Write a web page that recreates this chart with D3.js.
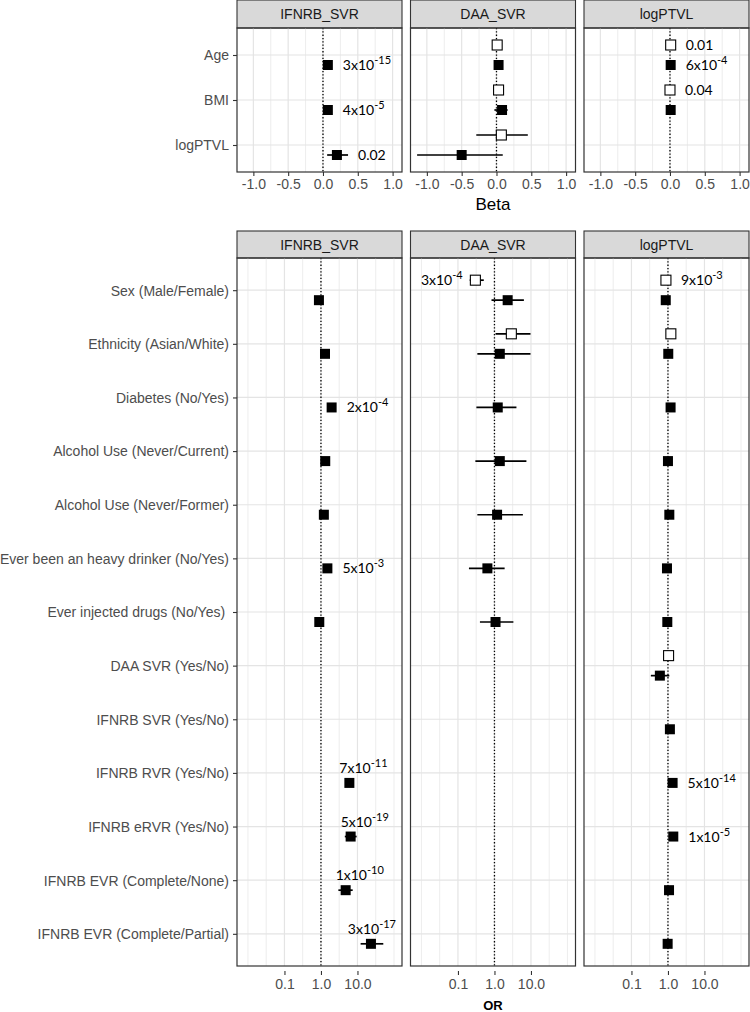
<!DOCTYPE html>
<html>
<head>
<meta charset="utf-8">
<script src="https://cdn.jsdelivr.net/npm/d3@7"></script>
<style>
  body { margin: 0; background: #fff; }
  svg { display: block; }
</style>
</head>
<body>
<svg id="chart" width="750" height="1012"></svg>
<script>
// Facets and rows
const outcomes = ['IFNRB_SVR', 'DAA_SVR', 'logPTVL'];
const betaVars = ['Age', 'BMI', 'logPTVL'];
const orVars = [
  'Sex (Male/Female)', 'Ethnicity (Asian/White)', 'Diabetes (No/Yes)',
  'Alcohol Use (Never/Current)', 'Alcohol Use (Never/Former)',
  'Ever been an heavy drinker (No/Yes)', 'Ever injected drugs (No/Yes) ',
  'DAA SVR (Yes/No)', 'IFNRB SVR (Yes/No)', 'IFNRB RVR (Yes/No)',
  'IFNRB eRVR (Yes/No)', 'IFNRB EVR (Complete/None)', 'IFNRB EVR (Complete/Partial)'
];

// Tick labels
const betaTicks = [-1, -0.5, 0, 0.5, 1];
const betaMinor = [-0.75, -0.25, 0.25, 0.75];
const orTicks = [0.1, 1, 10];
const orMinor = [0.01, 0.0316, 0.316, 3.16, 31.6, 100];

// [outcome, variable, estimate, lower, upper, p label]
const betaFilled = [
  ['IFNRB_SVR', 'Age', 0.07, 0.05, 0.09, '3x10^-15'],
  ['IFNRB_SVR', 'BMI', 0.07, 0.05, 0.09, '4x10^-5'],
  ['IFNRB_SVR', 'logPTVL', 0.20, 0.06, 0.36, '0.02'],
  ['DAA_SVR', 'Age', 0.03, 0.01, 0.05, ''],
  ['DAA_SVR', 'BMI', 0.08, -0.03, 0.16, ''],
  ['DAA_SVR', 'logPTVL', -0.50, -1.14, 0.09, ''],
  ['logPTVL', 'Age', 0.01, 0.00, 0.02, '6x10^-4'],
  ['logPTVL', 'BMI', 0.01, -0.01, 0.03, '']
];
const betaOpen = [
  ['DAA_SVR', 'Age', 0.01, -0.01, 0.03, ''],
  ['DAA_SVR', 'BMI', 0.03, 0.00, 0.06, ''],
  ['DAA_SVR', 'logPTVL', 0.07, -0.29, 0.45, ''],
  ['logPTVL', 'Age', 0.01, 0.00, 0.02, '0.01'],
  ['logPTVL', 'BMI', 0.00, -0.01, 0.01, '0.04']
];

const orFilled = [
  ['IFNRB_SVR', 'Sex (Male/Female)', 0.88, 0.80, 0.97, ''],
  ['IFNRB_SVR', 'Ethnicity (Asian/White)', 1.29, 1.15, 1.45, ''],
  ['IFNRB_SVR', 'Diabetes (No/Yes)', 1.96, 1.75, 2.20, '2x10^-4'],
  ['IFNRB_SVR', 'Alcohol Use (Never/Current)', 1.31, 1.18, 1.45, ''],
  ['IFNRB_SVR', 'Alcohol Use (Never/Former)', 1.20, 1.08, 1.33, ''],
  ['IFNRB_SVR', 'Ever been an heavy drinker (No/Yes)', 1.50, 1.35, 1.67, '5x10^-3'],
  ['IFNRB_SVR', 'Ever injected drugs (No/Yes) ', 0.90, 0.80, 1.00, ''],
  ['IFNRB_SVR', 'IFNRB RVR (Yes/No)', 6.0, 5.2, 6.9, '7x10^-11'],
  ['IFNRB_SVR', 'IFNRB eRVR (Yes/No)', 6.5, 4.5, 9.5, '5x10^-19'],
  ['IFNRB_SVR', 'IFNRB EVR (Complete/None)', 4.75, 3.0, 7.4, '1x10^-10'],
  ['IFNRB_SVR', 'IFNRB EVR (Complete/Partial)', 23.4, 12.2, 51, '3x10^-17'],
  ['DAA_SVR', 'Sex (Male/Female)', 2.3, 0.83, 6.4, ''],
  ['DAA_SVR', 'Ethnicity (Asian/White)', 1.4, 0.34, 9.7, ''],
  ['DAA_SVR', 'Diabetes (No/Yes)', 1.23, 0.32, 4.0, ''],
  ['DAA_SVR', 'Alcohol Use (Never/Current)', 1.4, 0.30, 7.5, ''],
  ['DAA_SVR', 'Alcohol Use (Never/Former)', 1.18, 0.34, 6.0, ''],
  ['DAA_SVR', 'Ever been an heavy drinker (No/Yes)', 0.64, 0.20, 1.9, ''],
  ['DAA_SVR', 'Ever injected drugs (No/Yes) ', 1.07, 0.40, 3.3, ''],
  ['logPTVL', 'Sex (Male/Female)', 0.87, 0.80, 0.95, ''],
  ['logPTVL', 'Ethnicity (Asian/White)', 1.02, 0.93, 1.12, ''],
  ['logPTVL', 'Diabetes (No/Yes)', 1.18, 1.07, 1.30, ''],
  ['logPTVL', 'Alcohol Use (Never/Current)', 1.00, 0.92, 1.09, ''],
  ['logPTVL', 'Alcohol Use (Never/Former)', 1.09, 1.00, 1.19, ''],
  ['logPTVL', 'Ever been an heavy drinker (No/Yes)', 0.94, 0.86, 1.03, ''],
  ['logPTVL', 'Ever injected drugs (No/Yes) ', 0.96, 0.88, 1.05, ''],
  ['logPTVL', 'DAA SVR (Yes/No)', 0.60, 0.34, 1.09, ''],
  ['logPTVL', 'IFNRB SVR (Yes/No)', 1.13, 1.03, 1.24, ''],
  ['logPTVL', 'IFNRB RVR (Yes/No)', 1.34, 1.22, 1.47, '5x10^-14'],
  ['logPTVL', 'IFNRB eRVR (Yes/No)', 1.40, 1.05, 1.55, '1x10^-5'],
  ['logPTVL', 'IFNRB EVR (Complete/None)', 1.07, 0.98, 1.17, ''],
  ['logPTVL', 'IFNRB EVR (Complete/Partial)', 0.98, 0.90, 1.07, '']
];
const orOpen = [
  ['DAA_SVR', 'Sex (Male/Female)', 0.30, 0.21, 0.51, '3x10^-4'],
  ['DAA_SVR', 'Ethnicity (Asian/White)', 2.9, 1.07, 9.7, ''],
  ['logPTVL', 'Sex (Male/Female)', 0.88, 0.82, 0.95, '9x10^-3'],
  ['logPTVL', 'Ethnicity (Asian/White)', 1.20, 1.10, 1.30, ''],
  ['logPTVL', 'DAA SVR (Yes/No)', 1.04, 0.95, 1.13, '']
];

const svg = d3.select('#chart');
const axisFont = '"Liberation Sans", Arial, Helvetica, sans-serif';
const noteFont = 'Lato, "Open Sans", sans-serif';
const axisSize = 14;
const panelX = [237, 410.5, 584];
const panelW = 165;
const dodge = 10;

const betaX = d3.scaleLinear().domain([-1.235, 1.135]).range([0, panelW]);
const orX = d3.scaleLog().domain([Math.pow(10, -2.3), Math.pow(10, 2.22)]).range([0, panelW]);

const sections = [
  { vars: betaVars, filled: betaFilled, open: betaOpen, x: betaX, ticks: betaTicks, minor: betaMinor,
    ref: 0, stripY: 0, y0: 28, y1: 172, tickGap: 0, labelY: 189,
    title: 'Beta', titleY: 210, titleSize: 17, bold: false },
  { vars: orVars, filled: orFilled, open: orOpen, x: orX, ticks: orTicks, minor: orMinor,
    ref: 1, stripY: 231, y0: 258, y1: 966, tickGap: 5, labelY: 989,
    title: 'OR', titleY: 1010, titleSize: 13, bold: true }
];

// labels that sit on the left or above their point
const leftLabels = ['DAA_SVR|Sex (Male/Female)|open'];
const aboveLabels = orVars.slice(9).map(v => 'IFNRB_SVR|' + v + '|filled');

function addLabel(g, px, py, txt, side) {
  const parts = txt.split('^');
  const t = g.append('text')
    .attr('font-family', noteFont)
    .attr('font-size', 14)
    .attr('fill', '#000');
  t.append('tspan').text(parts[0]);
  if (parts[1]) t.append('tspan').attr('font-size', 11).attr('dy', -6).text(parts[1]);
  if (side === 'left') {
    t.attr('text-anchor', 'end').attr('x', px).attr('y', py + 5);
  } else if (side === 'above') {
    const w = t.node().getComputedTextLength();
    t.attr('x', Math.min(px - 10, panelW - w - 6)).attr('y', py - 10);
  } else {
    t.attr('x', px).attr('y', py + 5);
  }
}

sections.forEach(sec => {
  const y = d3.scalePoint().domain(sec.vars).range([sec.y0, sec.y1]).padding(0.6);
  const x = sec.x;

  outcomes.forEach((out, i) => {
    const g = svg.append('g').attr('transform', 'translate(' + panelX[i] + ',0)');

    // strip
    g.append('rect')
      .attr('x', 0).attr('y', sec.stripY)
      .attr('width', panelW).attr('height', sec.y0 - sec.stripY)
      .attr('fill', '#d9d9d9').attr('stroke', '#333').attr('stroke-width', 1.1);
    g.append('text')
      .attr('x', panelW / 2).attr('y', (sec.stripY + sec.y0) / 2 + 5)
      .attr('text-anchor', 'middle')
      .attr('font-family', axisFont).attr('font-size', axisSize).attr('fill', '#1a1a1a')
      .text(out);

    // grid
    g.selectAll('.minor').data(sec.minor).enter().append('line')
      .attr('x1', d => x(d)).attr('x2', d => x(d))
      .attr('y1', sec.y0).attr('y2', sec.y1)
      .attr('stroke', '#ebebeb').attr('stroke-width', 0.9);
    g.selectAll('.major').data(sec.ticks).enter().append('line')
      .attr('x1', d => x(d)).attr('x2', d => x(d))
      .attr('y1', sec.y0).attr('y2', sec.y1)
      .attr('stroke', '#e4e4e4').attr('stroke-width', 1.2);
    g.selectAll('.row').data(sec.vars).enter().append('line')
      .attr('x1', 0).attr('x2', panelW)
      .attr('y1', d => y(d)).attr('y2', d => y(d))
      .attr('stroke', '#e4e4e4').attr('stroke-width', 1.2);

    // reference line
    g.append('line')
      .attr('x1', x(sec.ref)).attr('x2', x(sec.ref))
      .attr('y1', sec.y0).attr('y2', sec.y1)
      .attr('stroke', '#000').attr('stroke-width', 1.3)
      .attr('stroke-dasharray', '1.3,2');

    // points
    [['filled', sec.filled, dodge], ['open', sec.open, -dodge]].forEach(([kind, rows, off]) => {
      rows.filter(r => r[0] === out).forEach(r => {
        const [, v, est, lo, hi, p] = r;
        const py = y(v) + off;
        g.append('line')
          .attr('x1', x(lo)).attr('x2', x(hi))
          .attr('y1', py).attr('y2', py)
          .attr('stroke', '#000').attr('stroke-width', 1.7);
        g.append('rect')
          .attr('x', x(est) - 5).attr('y', py - 5)
          .attr('width', 10).attr('height', 10)
          .attr('fill', kind === 'filled' ? '#000' : '#fff')
          .attr('stroke', '#000').attr('stroke-width', kind === 'filled' ? 0 : 1.1);
        if (p) {
          const key = out + '|' + v + '|' + kind;
          if (leftLabels.includes(key)) addLabel(g, x(lo) - 7, py, p, 'left');
          else if (aboveLabels.includes(key)) addLabel(g, x(est), py, p, 'above');
          else addLabel(g, Math.max(x(hi), x(est) + 5) + 10, py, p, 'right');
        }
      });
    });

    // border
    g.append('rect')
      .attr('x', 0).attr('y', sec.y0)
      .attr('width', panelW).attr('height', sec.y1 - sec.y0)
      .attr('fill', 'none').attr('stroke', '#333').attr('stroke-width', 1.2);

    // x axis
    const xa = g.append('g')
      .attr('transform', 'translate(0,' + (sec.y1 + sec.tickGap) + ')')
      .call(d3.axisBottom(x).tickValues(sec.ticks).tickSize(4).tickFormat(d => d.toFixed(1)));
    xa.select('.domain').remove();
    xa.selectAll('line').attr('stroke', '#333').attr('stroke-width', 1.1);
    xa.selectAll('text')
      .attr('y', sec.labelY - sec.y1 - sec.tickGap).attr('dy', null)
      .attr('font-family', axisFont).attr('font-size', axisSize).attr('fill', '#4d4d4d');

    // y axis on first panel only
    if (i === 0) {
      const ya = g.append('g')
        .call(d3.axisLeft(y).tickSize(4).tickPadding(4));
      ya.select('.domain').remove();
      ya.selectAll('line').attr('stroke', '#333').attr('stroke-width', 1.1);
      ya.selectAll('text')
        .attr('dy', '0.35em')
        .style('white-space', 'pre')
        .attr('font-family', axisFont).attr('font-size', axisSize).attr('fill', '#4d4d4d');
    }
  });

  // axis title
  svg.append('text')
    .attr('x', (panelX[0] + panelX[2] + panelW) / 2)
    .attr('y', sec.titleY)
    .attr('text-anchor', 'middle')
    .attr('font-family', axisFont)
    .attr('font-size', sec.titleSize)
    .attr('font-weight', sec.bold ? 'bold' : 'normal')
    .attr('fill', '#000')
    .text(sec.title);
});
</script>
</body>
</html>
